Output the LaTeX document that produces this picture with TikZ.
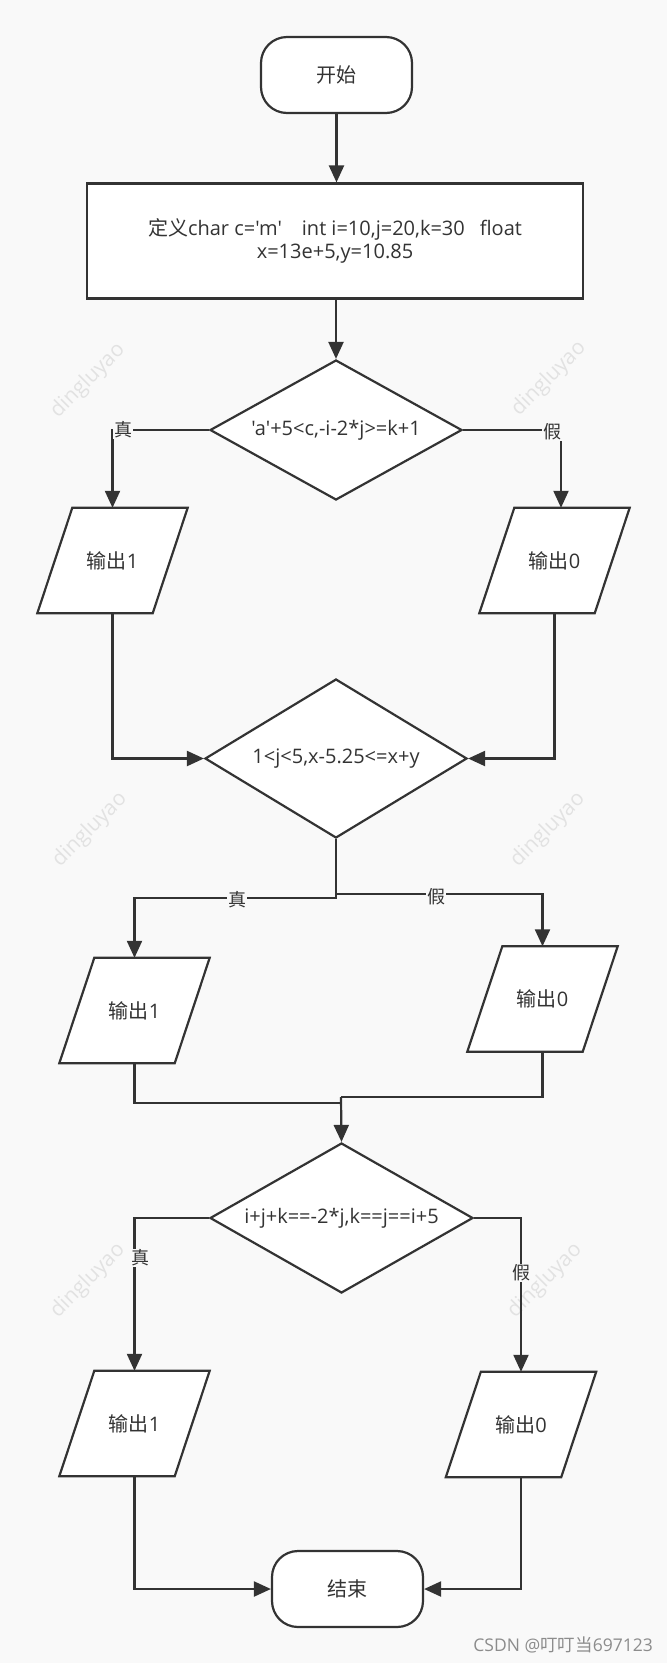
\documentclass[tikz,border=0pt]{standalone}
\usepackage{fontspec}
\newfontfamily\lat{Open Sans}
\newfontfamily\cjk{Noto Sans CJK SC}
\usetikzlibrary{arrows.meta,shapes.geometric,calc}
\definecolor{bgc}{HTML}{F9F9F9}
\definecolor{ln}{HTML}{333333}
\definecolor{wm}{HTML}{E2E2E2}
\definecolor{csdn}{HTML}{8C8C8C}
\pgfdeclarelayer{bg}
\pgfdeclarelayer{shp}
\pgfsetlayers{bg,shp,main}
\begin{document}
\begin{tikzpicture}[x=1pt,y=-1pt,
  base/.style={text=ln, font=\lat\fontsize{20}{26}\selectfont, inner sep=0pt},
  term/.style={base, draw=ln, line width=2.2pt, fill=white, rounded corners=26pt, minimum width=151pt, minimum height=76pt},
  procbox/.style={base, draw=ln, line width=2.2pt, fill=white, minimum width=496pt, minimum height=115pt, align=center},
  dia/.style={diamond, draw=ln, line width=2.2pt, fill=white, inner sep=0pt},
  diatext/.style={base},
  io/.style={base, minimum width=150pt, minimum height=105pt},
  iopath/.style={draw=ln, line width=2.2pt, fill=white, line join=miter},
  wire/.style={draw=ln, line width=2.2pt},
  arr/.style={wire, -{Triangle[length=17pt,width=15pt]}},
  lab/.style={base, fill=bgc, inner sep=1pt, font=\cjk\fontsize{18}{20}\selectfont},
  wmk/.style={text=wm, font=\lat\fontsize{21}{24}\selectfont, rotate=45, inner sep=0pt}
]
\begin{pgfonlayer}{bg}
\fill[bgc] (0,0) rectangle (667,1663);
\node[wmk] (w1) at (88,381) {dingluyao};
\node[wmk] (w2) at (549,379) {dingluyao};
\node[wmk] (w3) at (90,830) {dingluyao};
\node[wmk] (w4) at (548,830) {dingluyao};
\node[wmk] (w5) at (88,1281) {dingluyao};
\node[wmk] (w6) at (545,1281) {dingluyao};
\end{pgfonlayer}
\useasboundingbox (0,0) rectangle (667,1663);

% nodes
\node[term] (start) at (336.5,75) {\cjk 开始};
\node[procbox] (def) at (335,241) {{\cjk 定义}char c='m'\hspace{20pt}int i=10,j=20,k=30\hspace{15pt}float\\[-3pt]x=13e+5,y=10.85};
\node[dia, minimum width=252pt, minimum height=140pt] (d1) at (336,430) {};
\node[diatext] (d1t) at (d1) {'a'+5<c,-i-2*j>=k+1};
\node[io] (p1L) at (112.5,560.5) {{\cjk 输出}1};
\node[io] (p1R) at (554.5,560.5) {{\cjk 输出}0};
\node[dia, minimum width=262pt, minimum height=159pt] (d2) at (336,758.5) {};
\node[diatext] (d2t) at (d2) {1<j<5,x-5.25<=x+y};
\node[io] (p2L) at (134.5,1010.5) {{\cjk 输出}1};
\node[io] (p2R) at (542.5,999) {{\cjk 输出}0};
\node[dia, minimum width=263pt, minimum height=150pt] (d3) at (341.5,1218) {};
\node[diatext] (d3t) at (d3) {i+j+k==-2*j,k==j==i+5};
\node[io] (p3L) at (134.5,1423.5) {{\cjk 输出}1};
\node[io] (p3R) at (521,1424.5) {{\cjk 输出}0};
\node[term] (end) at (347.5,1589) {\cjk 结束};

% parallelogram outlines
\begin{pgfonlayer}{shp}
\foreach \p in {p1L,p1R,p2L,p2R,p3L,p3R}{
  \path[iopath] ($(\p.north west)+(35,0)$) -- (\p.north east) -- ($(\p.south east)+(-35,0)$) -- (\p.south west) -- cycle;
}
\end{pgfonlayer}

% connectors
\draw[arr] (start.south) -- (start.south |- def.north);
\draw[arr] (d1.north |- def.south) -- (d1.north);
\draw[arr] (d1.west) -| (p1L.north);
\draw[arr] (d1.east) -| ([xshift=6.5pt]p1R.north);
\draw[arr] (p1L.south) |- (d2.west);
\draw[arr] (p1R.south) |- (d2.east);
\coordinate (j2a) at (336,898);
\coordinate (j2b) at (336,894);
\draw[arr] (d2.south) -- (j2a) -| (p2L.north);
\draw[arr] (d2.south) -- (j2b) -| (p2R.north);
\coordinate (m1) at (341,1103);
\coordinate (m2) at (341,1097);
\draw[wire] (p2L.south) |- (m1);
\draw[wire] (p2R.south) |- (m2);
\draw[arr] (m2) -- (d3.north);
\draw[arr] (d3.west) -| (p3L.north);
\draw[arr] (d3.east) -| (p3R.north);
\draw[arr] (p3L.south) |- (end.west);
\draw[arr] (p3R.south) |- (end.east);

% labels
\node[lab] (l1) at (123,430) {真};
\node[lab] (l2) at (552,432) {假};
\node[lab] (l3) at (237,900) {真};
\node[lab] (l4) at (436,897) {假};
\node[lab] (l5) at (140,1258) {真};
\node[lab] (l6) at (521,1273) {假};

\node[anchor=east, text=csdn, font=\lat\fontsize{17.5}{20}\selectfont, inner sep=0pt] (csdn) at (653,1645) {CSDN @{\cjk 叮叮当}697123};
\end{tikzpicture}
\end{document}
